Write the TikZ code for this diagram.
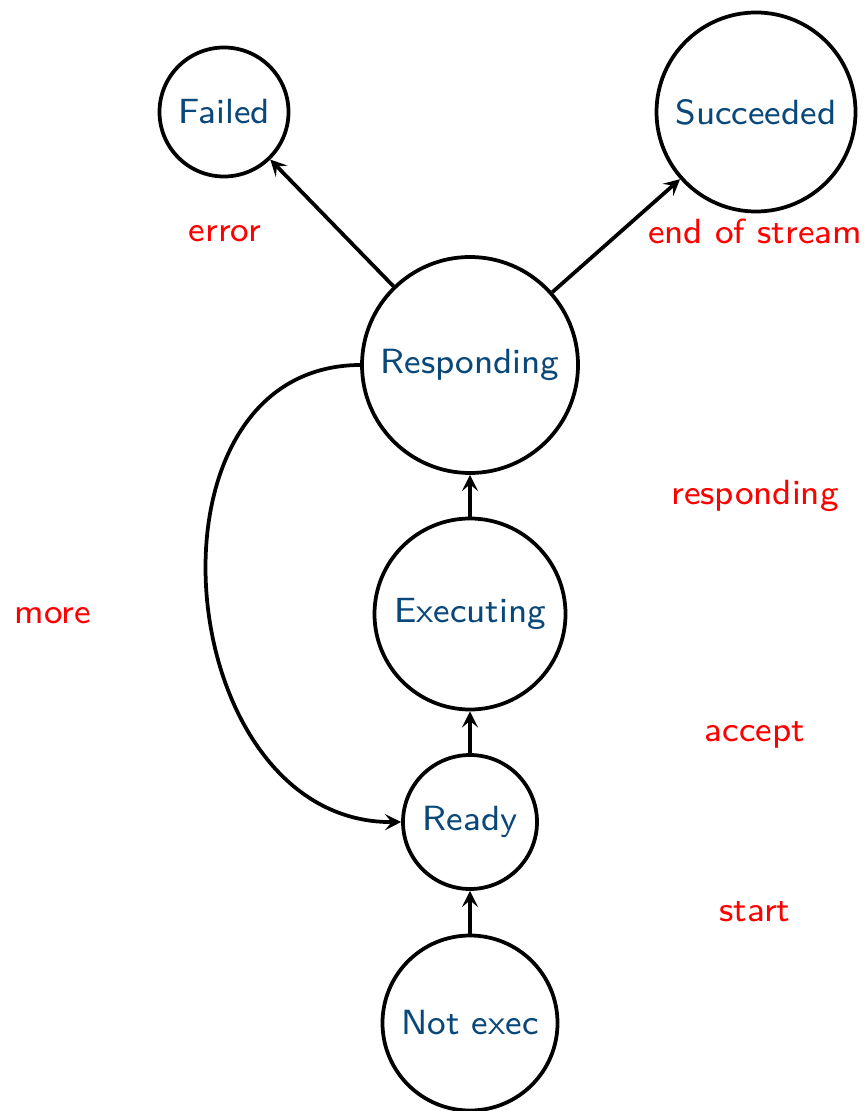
\documentclass[tikz,border=0pt]{standalone}
\usetikzlibrary{arrows.meta}
\definecolor{stateblue}{RGB}{10,72,122}
\newcommand{\bigtxt}[1]{\scalebox{1.75}{\footnotesize\sffamily #1}}
\begin{document}
\begin{tikzpicture}[x=0.4pt,y=-0.4pt,
  state/.style={circle,draw=black,line width=1.5pt,inner sep=0pt,text=stateblue},
  lbl/.style={text=red,inner sep=0pt},
  edge/.style={line width=1.5pt,-{Stealth[length=6.5pt,width=6.5pt,inset=2.7pt]}}]
\useasboundingbox (0,0) rectangle (865,1111);
\node[state,minimum size=51.6pt] (failed) at (224,112) {\bigtxt{Failed}};
\node[state,minimum size=79.6pt] (succ) at (756,112) {\bigtxt{Succeeded}};
\node[state,minimum size=86.4pt] (resp) at (470,365) {\bigtxt{Responding}};
\node[state,minimum size=76.4pt] (exec) at (470,614) {\bigtxt{Executing}};
\node[state,minimum size=53.6pt] (ready) at (470,822) {\bigtxt{Ready}};
\node[state,minimum size=70pt] (notexec) at (470,1023) {\bigtxt{Not exec}};
\node[lbl] (lerr) at (225,234) {\bigtxt{error}};
\node[lbl] (leos) at (755,231) {\bigtxt{end of stream}};
\node[lbl] (lresp) at (755,496) {\bigtxt{responding}};
\node[lbl] (lmore) at (53,616) {\bigtxt{more}};
\node[lbl] (lacc) at (755,735) {\bigtxt{accept}};
\node[lbl] (lstart) at (755,912) {\bigtxt{start}};
\draw[edge] (notexec) -- (ready);
\draw[edge] (ready) -- (exec);
\draw[edge] (exec) -- (resp);
\draw[edge] (resp) -- (failed);
\draw[edge] (resp) -- (succ);
\draw[edge] (resp.west) .. controls (130,366) and (170,824) .. (ready.west);
\end{tikzpicture}
\end{document}
